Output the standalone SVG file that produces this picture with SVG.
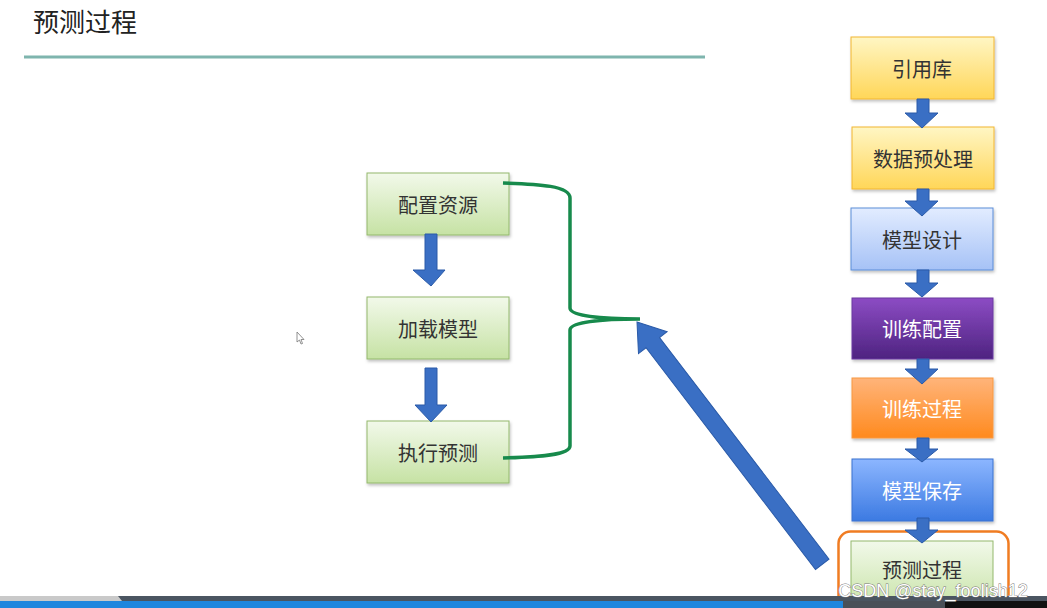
<svg xmlns="http://www.w3.org/2000/svg" width="1047" height="608" viewBox="0 0 1047 608">
<style>
text{font-family:"Noto Sans CJK SC","Noto Sans",sans-serif;text-anchor:middle;dominant-baseline:central}
.t{font-size:20px;fill:#333}
.w{font-size:20px;fill:#fff}
.dn{fill:#3a6fc4;stroke:#2a5aa8;stroke-width:1}
</style>
<defs>
<linearGradient id="gG" x1="0" y1="0" x2="0" y2="1"><stop offset="0" stop-color="#f2f9ea"/><stop offset="1" stop-color="#c6e2a4"/></linearGradient>
<linearGradient id="gY" x1="0" y1="0" x2="0" y2="1"><stop offset="0" stop-color="#fff6c4"/><stop offset="1" stop-color="#ffd658"/></linearGradient>
<linearGradient id="gB" x1="0" y1="0" x2="0" y2="1"><stop offset="0" stop-color="#e2ecff"/><stop offset="1" stop-color="#a6c2f6"/></linearGradient>
<linearGradient id="gP" x1="0" y1="0" x2="0" y2="1"><stop offset="0" stop-color="#8c4cc4"/><stop offset="1" stop-color="#4e2380"/></linearGradient>
<linearGradient id="gO" x1="0" y1="0" x2="0" y2="1"><stop offset="0" stop-color="#ffb47a"/><stop offset="1" stop-color="#ff8a1e"/></linearGradient>
<linearGradient id="gS" x1="0" y1="0" x2="0" y2="1"><stop offset="0" stop-color="#8cb6ff"/><stop offset="1" stop-color="#3c7ae2"/></linearGradient>
<filter id="sh" x="-10%" y="-10%" width="120%" height="130%"><feDropShadow dx="1" dy="2" stdDeviation="1.5" flood-opacity="0.25"/></filter>
</defs>
<rect width="1047" height="608" fill="#fff"/>
<text x="33" y="20" style="text-anchor:start;font-size:26px;fill:#222">预测过程</text>
<rect x="24" y="55.5" width="681" height="3" fill="#7fb5ae"/>

<g id="n-peizhi"><rect x="367" y="173" width="142" height="62" fill="url(#gG)" stroke="#93b86c" filter="url(#sh)"/><text class="t" x="438" y="204">配置资源</text></g>
<g id="n-jiazai"><rect x="367" y="297" width="142" height="62" fill="url(#gG)" stroke="#93b86c" filter="url(#sh)"/><text class="t" x="438" y="328">加载模型</text></g>
<g id="n-zhixing"><rect x="367" y="421" width="142" height="62" fill="url(#gG)" stroke="#93b86c" filter="url(#sh)"/><text class="t" x="438" y="452">执行预测</text></g>

<g id="n-yinyong"><rect x="851" y="37" width="143" height="62" fill="url(#gY)" stroke="#f2b630" filter="url(#sh)"/><text class="t" x="922" y="68">引用库</text></g>
<g id="n-shuju"><rect x="852" y="127" width="142" height="62" fill="url(#gY)" stroke="#f2b630" filter="url(#sh)"/><text class="t" x="923" y="158">数据预处理</text></g>
<g id="n-sheji"><rect x="851" y="208" width="142" height="62" fill="url(#gB)" stroke="#5b8dd8" filter="url(#sh)"/><text class="t" x="922" y="239">模型设计</text></g>
<g id="n-xlpz"><rect x="852" y="298" width="141" height="61" fill="url(#gP)" stroke="#6a3aa0" filter="url(#sh)"/><text class="w" x="922" y="328">训练配置</text></g>
<g id="n-xlgc"><rect x="852" y="378" width="141" height="60" fill="url(#gO)" stroke="#f89840" filter="url(#sh)"/><text class="w" x="922" y="408">训练过程</text></g>
<g id="n-baocun"><rect x="852" y="459" width="141" height="62" fill="url(#gS)" stroke="#3a72d0" filter="url(#sh)"/><text class="w" x="922" y="490">模型保存</text></g>
<g id="n-yuce"><rect x="851" y="541" width="142" height="70" fill="url(#gG)" stroke="#93b86c"/><text class="t" x="922" y="569">预测过程</text>
<rect x="838.5" y="531.5" width="170" height="90" rx="12" fill="none" stroke="#f07c22" stroke-width="2.5"/></g>

<g id="connectors">
<polygon class="dn" points="425,234 437,234 437,270 445,270 431,286 413,270 425,270"/>
<polygon class="dn" points="425,368 437,368 437,405 447,405 431,422 415,405 425,405"/>
<polygon class="dn" points="917,99 929,99 929,113 938,113 922,128 905,113 917,113"/>
<polygon class="dn" points="917,189 929,189 929,201 938,201 922,216 905,201 917,201"/>
<polygon class="dn" points="917,270 929,270 929,283 938,283 922,297 905,283 917,283"/>
<polygon class="dn" points="917,359 929,359 929,369 938,369 922,384 905,369 917,369"/>
<polygon class="dn" points="917,438 929,438 929,449 938,449 922,462 905,449 917,449"/>
<polygon class="dn" points="917,518 929,518 929,530 938,530 922,543 905,530 917,530"/>
<path d="M503,183 C540,184 570,186 570,198 L570,308 C570,316 600,319 640,319 C600,319 570,322 570,330 L570,446 C570,455 540,457 503,458" fill="none" stroke="#178a4c" stroke-width="3.5"/>
<polygon class="dn" points="0,0 18,26 8.5,26 8.5,305 -8.5,305 -8.5,26 -18,26" transform="translate(637,322) rotate(-37.4)"/>
</g>

<polygon points="297,332 297,342 299.5,340 301,344 302.5,343.5 301,339.5 304,339.5" fill="#fff" stroke="#777" stroke-width="0.8"/>

<rect x="0" y="596" width="1047" height="5" fill="#4b5561"/>
<polygon points="0,596 118,596 122,601 0,601" fill="#c9c9c9"/>
<rect x="0" y="601" width="843" height="7" fill="#1f86de"/>
<rect x="843" y="601" width="102" height="7" fill="#4a5058"/>
<rect x="945" y="601" width="102" height="7" fill="#111"/>
<text x="933" y="591" style="font-family:'Liberation Sans',sans-serif;font-size:18px;fill:#fff;stroke:#777;stroke-width:0.9;paint-order:stroke">CSDN @stay_foolish12</text>
</svg>
